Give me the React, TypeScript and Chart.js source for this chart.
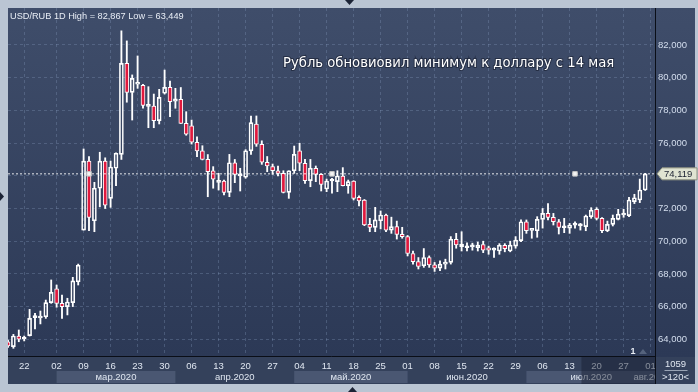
import React, { useEffect, useRef } from 'react';
import { Chart, registerables } from 'chart.js';

Chart.register(...registerables);

// ---- data (USD/RUB daily candles) ----
const opens = [
  63.85, 63.55, 64.2, 64.02, 64.22, 65.33, 65.3, 65.38, 66.24, 67.08,
  66.2, 66.0, 66.24, 67.52, 70.68, 74.9, 71.25, 73.24, 74.9, 72.62,
  74.46, 75.31, 80.88, 79.1, 79.6, 79.54, 78.25, 78.27, 77.37, 79.05,
  79.41, 78.56, 78.68, 77.21, 77.05, 76.05, 75.52, 75.0, 74.3, 73.6,
  73.68, 72.99, 74.8, 74.0, 73.91, 75.52, 77.17, 75.93, 74.83, 74.56,
  74.31, 74.15, 72.99, 74.31, 75.52, 74.77, 73.7, 74.46, 74.09, 73.19,
  73.68, 73.64, 73.99, 73.4, 73.68, 72.68, 72.52, 71.03, 70.85, 71.25,
  71.6, 70.68, 70.89, 70.42, 70.28, 69.25, 68.75, 68.5, 69.0, 68.55,
  68.35, 68.6, 68.7, 70.12, 69.67, 69.6, 69.65, 69.6, 69.8, 69.6,
  69.45, 69.4, 69.75, 69.4, 69.7, 70.03, 71.19, 70.66, 70.64, 71.33,
  71.7, 71.46, 71.19, 70.82, 70.79, 70.98, 70.94, 70.89, 71.5, 71.95,
  71.4, 70.64, 71.03, 71.33, 71.6, 71.56, 72.42, 72.52, 73.13,
];
const highs = [
  63.95, 64.3, 64.57, 64.2, 65.83, 65.59, 65.73, 66.4, 67.63, 67.32,
  66.71, 66.51, 67.79, 68.6, 75.64, 75.17, 73.6, 75.44, 75.1, 74.9,
  75.4, 82.867, 82.25, 80.17, 81.33, 79.6, 79.45, 79.0, 79.29, 80.47,
  79.8, 79.35, 79.4, 77.92, 77.41, 76.39, 75.84, 75.3, 74.56, 74.15,
  73.74, 75.31, 75.0, 74.46, 75.6, 77.66, 77.66, 76.14, 75.18, 74.72,
  74.6, 74.31, 74.31, 75.82, 75.99, 75.0, 75.0, 74.6, 74.12, 73.8,
  73.85, 74.31, 74.5, 73.74, 73.7, 72.78, 72.55, 71.4, 72.07, 71.85,
  71.66, 71.47, 71.23, 70.85, 70.35, 69.4, 69.0, 69.55, 69.1, 68.7,
  68.8, 68.9, 70.28, 70.48, 70.58, 69.9, 69.88, 69.95, 70.0, 69.7,
  69.6, 69.85, 69.85, 70.0, 70.28, 71.3, 71.3, 70.7, 71.5, 72.0,
  72.3, 71.7, 71.33, 71.4, 71.09, 71.19, 71.09, 71.6, 72.05, 72.05,
  71.45, 71.23, 71.6, 71.95, 71.95, 72.68, 72.87, 73.8, 74.15,
];
const lows = [
  63.5, 63.449, 63.85, 63.9, 64.2, 64.63, 64.94, 65.28, 66.2, 65.96,
  65.28, 65.49, 66.0, 67.32, 70.68, 70.64, 70.58, 72.1, 72.0, 72.07,
  73.4, 75.0, 78.5, 77.41, 79.35, 78.13, 76.94, 76.94, 77.17, 79.0,
  77.61, 78.13, 77.2, 76.48, 75.94, 75.17, 74.97, 72.72, 73.24, 73.13,
  72.83, 72.72, 73.58, 73.07, 73.85, 75.31, 75.8, 74.7, 74.25, 74.09,
  74.0, 72.95, 72.62, 74.15, 74.31, 73.54, 73.33, 73.64, 73.07, 73.03,
  72.93, 73.03, 73.38, 72.93, 72.52, 72.15, 70.95, 70.58, 70.58, 70.75,
  70.58, 70.48, 70.13, 70.18, 69.1, 68.6, 68.3, 68.4, 68.4, 68.15,
  68.2, 68.3, 68.6, 69.57, 69.4, 69.4, 69.45, 69.4, 69.3, 69.2,
  69.0, 69.2, 69.35, 69.35, 69.57, 69.97, 70.48, 70.18, 70.24, 70.8,
  71.3, 70.99, 70.44, 70.52, 70.48, 70.79, 70.68, 70.64, 71.4, 71.3,
  70.52, 70.58, 70.93, 71.3, 71.46, 71.5, 72.3, 72.36, 73.1,
];
const closes = [
  63.59, 64.2, 64.0, 64.06, 65.28, 65.37, 65.42, 66.24, 66.87, 66.2,
  66.0, 66.28, 67.57, 68.53, 74.9, 71.46, 73.24, 74.9, 72.2, 74.54,
  75.38, 80.88, 79.1, 79.96, 79.7, 78.31, 78.3, 77.37, 78.8, 79.41,
  78.53, 78.7, 77.21, 76.54, 76.05, 75.52, 75.0, 74.25, 73.8, 73.65,
  72.99, 74.8, 74.09, 74.05, 75.53, 77.25, 75.93, 74.83, 74.6, 74.31,
  74.15, 72.99, 74.31, 75.31, 74.77, 73.7, 74.46, 74.09, 73.48, 73.68,
  73.72, 73.99, 73.4, 73.64, 72.62, 72.46, 70.99, 70.85, 71.3, 71.6,
  70.68, 70.89, 70.42, 70.28, 69.25, 68.75, 68.45, 69.0, 68.55, 68.35,
  68.6, 68.7, 70.12, 69.77, 69.83, 69.65, 69.72, 69.77, 69.45, 69.45,
  69.5, 69.75, 69.55, 69.76, 70.07, 71.19, 70.64, 70.7, 71.33, 71.7,
  71.46, 71.19, 70.85, 70.85, 70.99, 71.02, 70.97, 71.54, 71.9, 71.4,
  70.64, 71.03, 71.4, 71.66, 71.7, 72.52, 72.66, 73.13, 74.119,
];

const slotCount = 121;
const tickIndex = [3, 9, 14, 19, 24, 29, 34, 39, 44, 49, 54, 59, 64, 69, 74, 79, 84, 89, 94, 99, 104, 109, 114, 119];
const tickText = ['22', '02', '09', '16', '23', '30', '06', '13', '20', '27', '04', '11', '18', '25', '01', '08', '15', '22', '29', '06', '13', '20', '27', '01'];
const monthNames = ['мар.2020', 'апр.2020', 'май.2020', 'июн.2020', 'июл.2020', 'авг.2020'];
const monthStart = [9, 31, 53, 74, 96, 120];
const monthEnd = [31, 53, 74, 96, 120, 121];
const monthLabelAt = [20, 42, 63.5, 85, 108, 119.2];
const yTicks = [64, 66, 68, 70, 72, 74, 76, 78, 80, 82];
const lastPrice = 74.119;
const matchIdx = [15, 60, 105];
const titleText = 'USD/RUB 1D High = 82,867 Low = 63,449';
const noteText = 'Рубль обновиовил минимум к доллару с 14 мая';

const categories = Array.from({ length: slotCount }, (_, i) => {
  const k = tickIndex.indexOf(i);
  return k >= 0 ? tickText[k] : '';
});

const fmt = (v: number) => v.toFixed(3).replace('.', ',');
const SANS = '"Liberation Sans", Arial, sans-serif';

const decor = {
  id: 'decor',
  beforeDraw(chart: any) {
    const { ctx, chartArea: ca, scales } = chart;
    const x = scales.x;
    const y = scales.y;
    ctx.save();
    ctx.fillStyle = '#bac5d3';
    ctx.fillRect(0, 0, chart.width, chart.height);
    const g = ctx.createLinearGradient(0, ca.top, 0, ca.bottom);
    g.addColorStop(0, '#3f4d6a');
    g.addColorStop(1, '#2c3956');
    ctx.fillStyle = g;
    ctx.fillRect(ca.left, ca.top, y.right - ca.left, ca.bottom - ca.top);
    ctx.fillStyle = '#34415b';
    ctx.fillRect(ca.left, ca.bottom, y.right - ca.left, x.bottom - ca.bottom);
    // month bands
    const rowTop = ca.bottom + 14;
    ctx.save();
    ctx.beginPath();
    ctx.rect(ca.left, ca.bottom, ca.right - ca.left - 1, x.bottom - ca.bottom);
    ctx.clip();
    monthNames.forEach((m, i) => {
      const a = x.getPixelForValue(monthStart[i]);
      const b = x.getPixelForValue(monthEnd[i]);
      if (i % 2 === 0) {
        ctx.fillStyle = '#4a5772';
        ctx.fillRect(a, rowTop, b - a, x.bottom - rowTop - 1);
      }
    });
    ctx.fillStyle = '#dfe6f0';
    ctx.font = `9.5px ${SANS}`;
    ctx.textAlign = 'center';
    ctx.textBaseline = 'middle';
    monthNames.forEach((m, i) => {
      ctx.fillText(m, x.getPixelForValue(monthLabelAt[i]), rowTop + 6.5);
    });
    ctx.restore();
    ctx.restore();
  },
  afterDraw(chart: any) {
    const { ctx, chartArea: ca, scales } = chart;
    const x = scales.x;
    const y = scales.y;
    ctx.save();
    // darker overlay at end of x axis
    const ox = x.getPixelForValue(106.2);
    ctx.fillStyle = 'rgba(22,29,46,0.45)';
    ctx.fillRect(ox, ca.bottom, ca.right - ox - 1, x.bottom - ca.bottom);
    // frame lines
    ctx.strokeStyle = '#0a0e17';
    ctx.lineWidth = 1;
    ctx.beginPath();
    ctx.moveTo(ca.left, ca.bottom - 0.5);
    ctx.lineTo(ca.right - 1, ca.bottom - 0.5);
    ctx.moveTo(ca.right - 0.5, ca.top);
    ctx.lineTo(ca.right - 0.5, x.bottom);
    ctx.stroke();
    // title
    ctx.fillStyle = '#e8edf5';
    ctx.font = `9.2px ${SANS}`;
    ctx.textAlign = 'left';
    ctx.textBaseline = 'alphabetic';
    ctx.fillText(titleText, ca.left + 2, 18.5);
    // annotation
    ctx.font = '13.2px "DejaVu Sans", sans-serif';
    ctx.lineWidth = 2;
    ctx.strokeStyle = 'rgba(20,26,42,0.55)';
    ctx.strokeText(noteText, 283, 66.5);
    ctx.fillStyle = '#ffffff';
    ctx.fillText(noteText, 283, 66.5);
    // last price label
    const py = y.getPixelForValue(lastPrice);
    ctx.beginPath();
    ctx.moveTo(ca.right + 1, py);
    ctx.lineTo(ca.right + 6, py - 6);
    ctx.lineTo(chart.width - 1, py - 6);
    ctx.lineTo(chart.width - 1, py + 6);
    ctx.lineTo(ca.right + 6, py + 6);
    ctx.closePath();
    ctx.fillStyle = '#e0e4d2';
    ctx.fill();
    ctx.strokeStyle = '#8e927f';
    ctx.lineWidth = 1;
    ctx.stroke();
    ctx.fillStyle = '#1b2131';
    ctx.font = `9.5px ${SANS}`;
    ctx.textBaseline = 'middle';
    ctx.fillText(fmt(lastPrice), ca.right + 8, py + 0.5);
    // corner info
    const cx = (ca.right + y.right) / 2;
    ctx.fillStyle = '#dfe6f0';
    ctx.textAlign = 'center';
    ctx.fillText('1059', cx, ca.bottom + 7.5);
    ctx.fillText('>120<', cx, ca.bottom + 20);
    ctx.strokeStyle = 'rgba(220,228,240,0.6)';
    ctx.beginPath();
    ctx.moveTo(cx - 11, ca.bottom + 13.5);
    ctx.lineTo(cx + 12, ca.bottom + 13.5);
    ctx.stroke();
    // small marker near bottom right of plot
    ctx.font = `bold 9px ${SANS}`;
    ctx.fillStyle = '#e8edf5';
    ctx.fillText('1', ca.right - 23, ca.bottom - 5);
    ctx.fillStyle = 'rgba(90,104,130,0.9)';
    ctx.beginPath();
    ctx.moveTo(ca.right - 13, ca.bottom - 8);
    ctx.lineTo(ca.right - 9, ca.bottom - 3);
    ctx.lineTo(ca.right - 17, ca.bottom - 3);
    ctx.closePath();
    ctx.fill();
    // outer UI markers
    ctx.fillStyle = '#1c2436';
    ctx.beginPath();
    ctx.moveTo(345, 0);
    ctx.lineTo(354, 0);
    ctx.lineTo(349.5, 5);
    ctx.closePath();
    ctx.fill();
    ctx.beginPath();
    ctx.moveTo(348, 392);
    ctx.lineTo(357, 392);
    ctx.lineTo(352.5, 387);
    ctx.closePath();
    ctx.fill();
    ctx.beginPath();
    ctx.moveTo(0, 192);
    ctx.lineTo(4, 196.5);
    ctx.lineTo(0, 201);
    ctx.closePath();
    ctx.fill();
    ctx.restore();
  },
};

export default function App() {
  const ref = useRef<HTMLCanvasElement>(null);
  useEffect(() => {
    const canvas = ref.current;
    if (!canvas) return;
    const bodies = opens.map((o, i) => [Math.min(o, closes[i]), Math.max(o, closes[i])]);
    const upper = opens.map((o, i) => [Math.max(o, closes[i]), highs[i]]);
    const lower = opens.map((o, i) => [lows[i], Math.min(o, closes[i])]);
    const bodyFill = opens.map((o, i) => (closes[i] < o ? '#e1183d' : 'rgba(0,0,0,0)'));
    const gridColor = 'rgba(135,155,190,0.32)';
    const chart = new Chart(canvas, {
      type: 'bar',
      data: {
        labels: categories,
        datasets: [
          {
            type: 'line',
            data: categories.map((_, i) => (matchIdx.includes(i) ? lastPrice : null)),
            showLine: false,
            pointStyle: 'rect',
            pointRadius: 3.2,
            pointBackgroundColor: '#f4f4f4',
            pointBorderColor: '#c4c4c4',
            pointBorderWidth: 1,
            order: 0,
          } as any,
          {
            type: 'line',
            data: categories.map(() => lastPrice),
            borderColor: 'rgba(255,255,255,0.9)',
            borderWidth: 1,
            borderDash: [2, 2],
            pointRadius: 0,
            order: 1,
          } as any,
          {
            type: 'bar',
            data: bodies,
            backgroundColor: bodyFill,
            borderColor: '#ffffff',
            borderWidth: 1,
            borderSkipped: false,
            barThickness: 4,
            minBarLength: 2,
            grouped: false,
            order: 2,
          } as any,
          {
            type: 'bar',
            data: upper,
            backgroundColor: '#ffffff',
            borderWidth: 0,
            barThickness: 1.2,
            grouped: false,
            order: 3,
          } as any,
          {
            type: 'bar',
            data: lower,
            backgroundColor: '#ffffff',
            borderWidth: 0,
            barThickness: 1.2,
            grouped: false,
            order: 3,
          } as any,
        ],
      },
      options: {
        responsive: false,
        animation: false,
        devicePixelRatio: 1,
        events: [],
        layout: { padding: { left: 8, top: 8, right: 3, bottom: 8 } },
        plugins: {
          legend: { display: false },
          tooltip: { enabled: false },
          title: { display: false },
        },
        scales: {
          x: {
            type: 'category',
            offset: false,
            grid: { color: gridColor, lineWidth: 1, drawTicks: false, offset: false },
            border: { display: false, dash: [3, 3] },
            ticks: {
              autoSkip: false,
              maxRotation: 0,
              minRotation: 0,
              padding: 4,
              color: '#dfe6f0',
              font: { family: SANS, size: 9.5 },
              callback: (v: any) => categories[Number(v)] || '',
            },
            afterBuildTicks: (s: any) => {
              s.ticks = tickIndex.map((i) => ({ value: i }));
            },
            afterFit: (s: any) => {
              s.height = 27;
            },
          },
          y: {
            type: 'linear',
            position: 'right',
            min: 62.917,
            max: 84.263,
            beginAtZero: false,
            grid: { color: gridColor, lineWidth: 1, drawTicks: false },
            border: { display: false, dash: [3, 3] },
            ticks: {
              padding: 2,
              color: '#d4deee',
              font: { family: SANS, size: 9.5 },
              callback: (v: any) => fmt(Number(v)),
            },
            afterBuildTicks: (s: any) => {
              s.ticks = yTicks.map((v) => ({ value: v }));
            },
            afterFit: (s: any) => {
              s.width = 39;
            },
          },
        },
      } as any,
      plugins: [decor],
    });
    return () => chart.destroy();
  }, []);
  return (
    <div style={{ position: 'fixed', left: 0, top: 0, width: 698, height: 392 }}>
      <canvas ref={ref} width={698} height={392} style={{ display: 'block', width: 698, height: 392 }} />
    </div>
  );
}
